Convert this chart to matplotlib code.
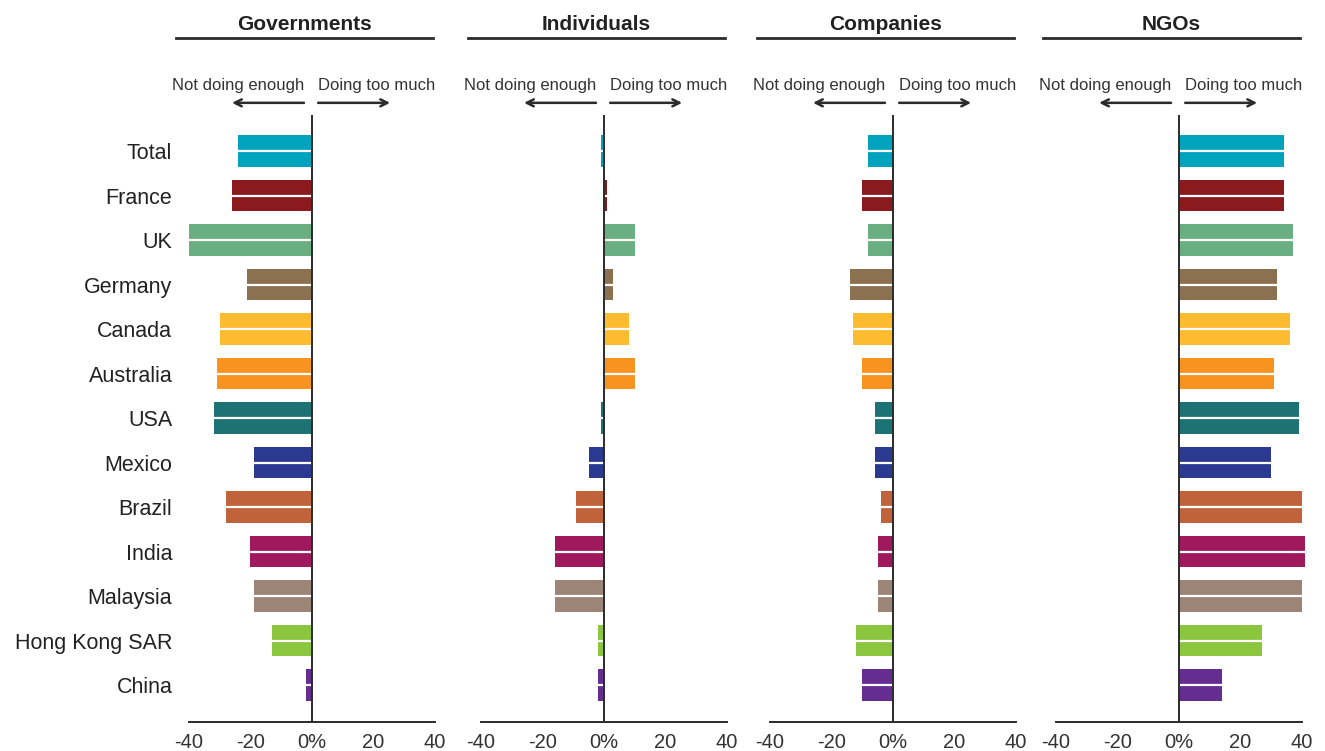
import matplotlib.pyplot as plt

plt.rcParams['font.family'] = ['Liberation Sans', 'DejaVu Sans']

countries = ["Total", "France", "UK", "Germany", "Canada", "Australia", "USA",
             "Mexico", "Brazil", "India", "Malaysia", "Hong Kong SAR", "China"]
colors = ["#00A3BE", "#8B1A1E", "#6AAF82", "#8B7150", "#FDBB30", "#F7931E", "#1D7373",
          "#2B3990", "#C1633A", "#A0195F", "#9C8577", "#8CC63F", "#662D91"]

governments = [-24, -26, -40, -21, -30, -31, -32, -19, -28, -20, -19, -13, -2]
individuals = [-1, 1, 10, 3, 8, 10, -1, -5, -9, -16, -16, -2, -2]
companies = [-8, -10, -8, -14, -13, -10, -6, -6, -4, -5, -5, -12, -10]
ngos = [34, 34, 37, 32, 36, 31, 39, 30, 40, 41, 40, 27, 14]

panels = [("Governments", governments), ("Individuals", individuals),
          ("Companies", companies), ("NGOs", ngos)]
ticks = [-40, -20, 0, 20, 40]
tick_labels = ["-40", "-20", "0%", "20", "40"]

lefts = [0.1426, 0.3630, 0.5811, 0.7970]
dark = "#2b2b2b"

fig = plt.figure(figsize=(13.25, 7.51), dpi=100)

for i, (name, vals) in enumerate(panels):
    ax = fig.add_axes([lefts[i], 0.0386, 0.1857, 0.8083])
    ypos = list(range(len(countries)))
    bars = ax.barh(ypos, vals, height=0.7, color=colors, zorder=2)
    for b in bars:
        b.set_clip_on(False)
    # white split line through the middle of each bar
    ax.hlines(ypos, 0, vals, colors="white", linewidth=1.6, zorder=3, clip_on=False)
    ax.axvline(0, color=dark, linewidth=1.4, zorder=4)
    ax.set_xlim(-40, 40)
    ax.set_ylim(12.83, -0.81)
    for s in ["top", "right", "left"]:
        ax.spines[s].set_visible(False)
    ax.spines["bottom"].set_color(dark)
    ax.spines["bottom"].set_linewidth(1.4)
    ax.set_xticks(ticks)
    ax.set_xticklabels(tick_labels, fontsize=14.5, color="#333333")
    ax.tick_params(axis="x", length=0, pad=8)
    if i == 0:
        ax.set_yticks(ypos)
        ax.set_yticklabels(countries, fontsize=15.5, color="#222222")
        ax.tick_params(axis="y", length=0, pad=12)
    else:
        ax.set_yticks([])

    # header
    ax.text(0.47, 1.149, name, transform=ax.transAxes, ha="center", va="center",
            fontsize=15, fontweight="bold", color="#222222")
    ax.plot([-0.053, 0.992], [1.127, 1.127], transform=ax.transAxes,
            color=dark, linewidth=2, clip_on=False)
    # direction labels
    ax.text(-2.6, 1.049, "Not doing enough", transform=ax.get_xaxis_transform(),
            ha="right", va="center", fontsize=12, color="#333333")
    ax.text(2, 1.049, "Doing too much", transform=ax.get_xaxis_transform(),
            ha="left", va="center", fontsize=12, color="#333333")
    arrow = dict(arrowstyle="->,head_length=0.5,head_width=0.25", color=dark,
                 lw=1.8, shrinkA=0, shrinkB=0)
    ax.annotate("", xy=(-26, 1.020), xytext=(-2.6, 1.020),
                xycoords=ax.get_xaxis_transform(), arrowprops=arrow)
    ax.annotate("", xy=(25.4, 1.020), xytext=(2, 1.020),
                xycoords=ax.get_xaxis_transform(), arrowprops=arrow)

fig.savefig("out.png", dpi=100)
